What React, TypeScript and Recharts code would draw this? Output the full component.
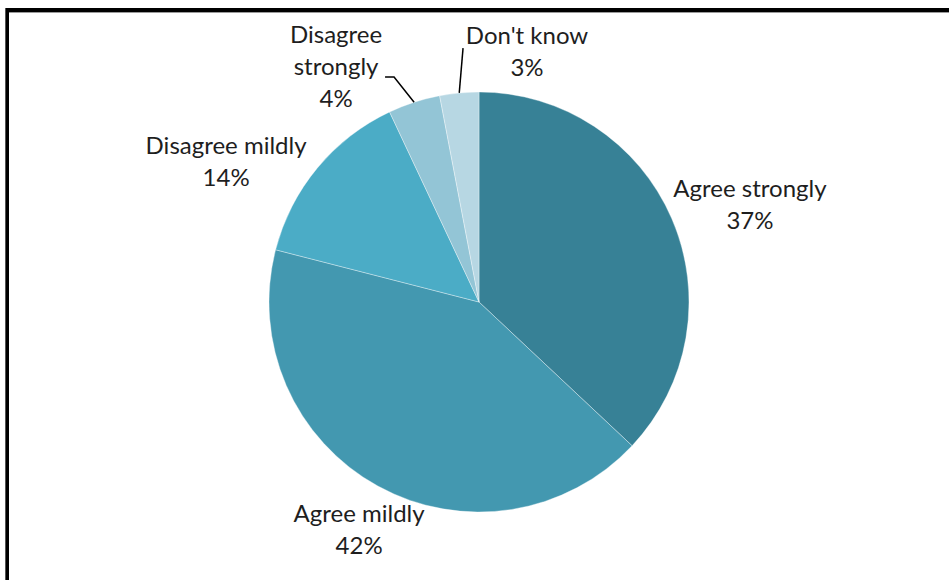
import { PieChart, Pie, Cell } from "recharts"

// survey answers, clockwise from 12 o'clock
const categories = ["Agree strongly", "Agree mildly", "Disagree mildly", "Disagree strongly", "Don't know"]
const shares = [37, 42, 14, 4, 3]
const labelLines = [["Agree strongly"], ["Agree mildly"], ["Disagree mildly"], ["Disagree", "strongly"], ["Don't know"]]

const colors = ["#378196", "#4398B0", "#4BACC6", "#93C5D6", "#B7D7E3"]

// label nudges: angle shift (deg) from slice middle, distance as multiple of radius
const labelLayout = [
  { turn: -3.4, dist: 1.373 },
  { turn: 0.9, dist: 1.22 },
  { turn: 10.3, dist: 1.381 },
  { turn: 13.2, dist: 1.314 },
  { turn: -16.2, dist: 1.221 },
]

const RAD = Math.PI / 180
const LINE_H = 32

const data = categories.map((name, i) => ({ name, value: shares[i] }))

function SliceLabel(props: any) {
  const { cx, cy, midAngle, outerRadius, index, value } = props
  const lay = labelLayout[index]
  const a = (midAngle + lay.turn) * RAD
  const x = cx + outerRadius * lay.dist * Math.cos(a)
  const y = cy - outerRadius * lay.dist * Math.sin(a)
  const lines = [...labelLines[index], `${value}%`]
  const edgeX = cx + outerRadius * Math.cos(midAngle * RAD)
  const edgeY = cy - outerRadius * Math.sin(midAngle * RAD)

  let leader = null
  if (index === 3) {
    // elbow leader for the small slice
    const ex = x + 49
    const ey = y + 11
    leader = <polyline points={`${edgeX},${edgeY} ${ex + 9},${ey} ${ex},${ey}`} fill="none" stroke="#000" strokeWidth={1.5} />
  } else if (index === 4) {
    leader = <line x1={edgeX} y1={edgeY} x2={x - 64} y2={y - 2} stroke="#000" strokeWidth={1.5} />
  }

  return (
    <g>
      {leader}
      {lines.map((t, i) => (
        <text
          key={i}
          x={x}
          y={y + (i - (lines.length - 1) / 2) * LINE_H}
          textAnchor="middle"
          dominantBaseline="central"
          fill="#1e1e1e"
          fontFamily="Lato, 'Open Sans', sans-serif"
          fontSize={24}
        >
          {t}
        </text>
      ))}
    </g>
  )
}

export default function App() {
  return (
    <div style={{ position: "fixed", left: 0, top: 0, width: 949, height: 580, background: "#fff" }}>
      <PieChart width={949} height={580} margin={{ top: 0, right: 0, bottom: 0, left: 0 }}>
        <Pie
          data={data}
          dataKey="value"
          nameKey="name"
          cx={479}
          cy={302}
          outerRadius={210}
          startAngle={90}
          endAngle={-270}
          stroke="rgba(255,255,255,0.35)"
          strokeWidth={1}
          label={SliceLabel}
          labelLine={false}
          isAnimationActive={false}
        >
          {data.map((d, i) => (
            <Cell key={d.name} fill={colors[i]} />
          ))}
        </Pie>
      </PieChart>
      {/* frame edges */}
      <div style={{ position: "absolute", left: 5, top: 8, width: 944, height: 4, background: "#000" }} />
      <div style={{ position: "absolute", left: 9, top: 12, width: 940, height: 1, background: "#9a9a9a" }} />
      <div style={{ position: "absolute", left: 5, top: 8, width: 4, height: 572, background: "#000" }} />
      <div style={{ position: "absolute", left: 5, top: 8, width: 1, height: 572, background: "#555" }} />
    </div>
  )
}
